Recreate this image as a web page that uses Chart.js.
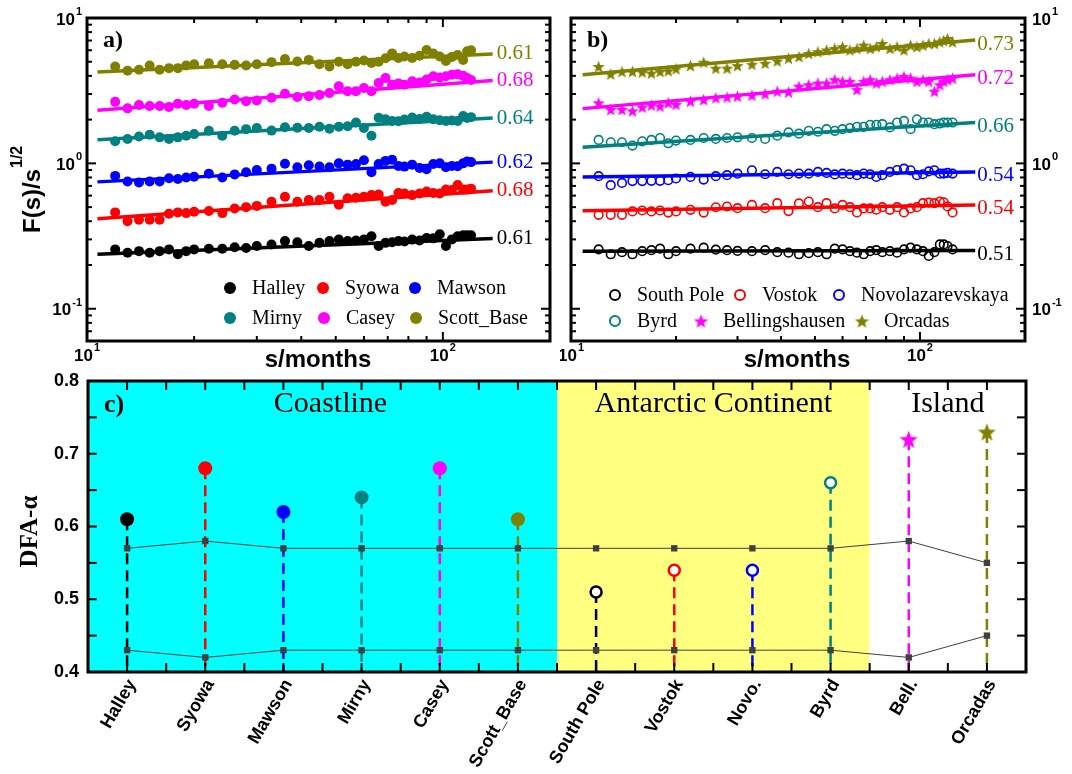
<!DOCTYPE html>
<html>
<head>
<meta charset="utf-8">
<title>DFA of Antarctic stations</title>
<script src="https://cdn.jsdelivr.net/npm/chart.js@4.4.1/dist/chart.umd.min.js"></script>
<style>
  html, body { margin: 0; padding: 0; background: #fff; }
  #wrap { position: relative; width: 1072px; height: 774px; overflow: hidden; }
  #wrap canvas { position: absolute; }
</style>
</head>
<body>
<div id="wrap">
  <canvas id="chartA" width="560" height="370" style="left:0;top:0"></canvas>
  <canvas id="chartB" width="512" height="370" style="left:560px;top:0"></canvas>
  <canvas id="chartC" width="1072" height="404" style="left:0;top:370px"></canvas>
</div>
<script>
// ===== DATA =====

// panel a: coastline stations, F(s)/s^1/2 against s (months)
const sA = [12, 13, 14, 15, 16, 17, 18, 19, 20, 22, 24, 26, 28, 30, 33, 36, 39, 42, 45, 48, 51,
    54, 57, 60, 63, 66, 69, 72, 75, 78, 82, 86, 90, 94, 98, 102, 106, 110, 114, 117, 120];
const halley = [0.256, 0.243, 0.249, 0.243, 0.249, 0.256, 0.237, 0.249, 0.256, 0.259, 0.259, 0.265, 0.262, 0.270,
    0.277, 0.292, 0.287, 0.270, 0.284, 0.292, 0.299, 0.292, 0.295, 0.299, 0.315, 0.270, 0.284, 0.287, 0.292,
    0.290, 0.299, 0.295, 0.307, 0.305, 0.325, 0.270, 0.300, 0.315, 0.320, 0.320, 0.320];
const syowa = [0.46, 0.40, 0.41, 0.41, 0.41, 0.45, 0.46, 0.455, 0.465, 0.47, 0.455, 0.49, 0.50, 0.51, 0.545,
    0.59, 0.545, 0.56, 0.56, 0.59, 0.52, 0.575, 0.58, 0.59, 0.605, 0.61, 0.545, 0.56, 0.625, 0.62, 0.605,
    0.62, 0.64, 0.625, 0.62, 0.66, 0.655, 0.71, 0.66, 0.66, 0.67];
const mawson = [0.82, 0.75, 0.74, 0.75, 0.75, 0.79, 0.78, 0.80, 0.81, 0.85, 0.80, 0.84, 0.87, 0.90, 0.92,
    0.995, 0.94, 0.97, 0.95, 0.94, 1.00, 0.98, 0.99, 1.05, 0.87, 0.99, 1.04, 1.06, 0.96, 0.95, 0.98,
    0.93, 0.91, 0.99, 1.00, 0.94, 0.96, 0.955, 1.00, 1.03, 1.02];
const mirny = [1.42, 1.47, 1.53, 1.575, 1.51, 1.47, 1.51, 1.55, 1.59, 1.675, 1.55, 1.675, 1.72, 1.75, 1.68,
    1.77, 1.76, 1.75, 1.785, 1.73, 1.785, 1.80, 1.91, 1.75, 1.55, 2.06, 2.01, 1.96, 1.95, 2.00, 2.065,
    2.02, 2.09, 2.01, 1.98, 1.96, 1.97, 1.96, 2.12, 2.05, 2.08];
const casey = [2.65, 2.39, 2.52, 2.48, 2.48, 2.44, 2.57, 2.52, 2.57, 2.48, 2.61, 2.75, 2.68, 2.71, 2.83,
    3.01, 2.86, 2.90, 2.95, 3.05, 3.39, 3.14, 3.14, 3.30, 3.14, 3.57, 3.86, 3.48, 3.55, 3.48, 3.67,
    3.60, 3.77, 3.97, 3.90, 3.97, 4.07, 4.10, 4.00, 3.87, 3.75];
const scottBase = [4.64, 4.34, 4.40, 4.71, 4.40, 4.52, 4.52, 4.71, 4.81, 4.89, 4.81, 4.76, 4.71, 4.81, 4.97,
    5.23, 5.02, 5.15, 4.80, 4.64, 5.00, 4.81, 5.00, 5.10, 4.90, 5.00, 5.29, 5.71, 5.30, 5.43, 5.30,
    5.50, 6.03, 5.70, 5.43, 5.07, 5.40, 5.57, 5.15, 5.90, 6.00];

// fitted lines of panel a (two end points each)
const fitSA = [10.7, 138];
const fitHalley = [0.237, 0.304];
const fitSyowa = [0.416, 0.648];
const fitMawson = [0.746, 1.02];
const fitMirny = [1.456, 2.05];
const fitCasey = [2.32, 3.71];
const fitScott = [4.25, 5.66];

// panel b: continent and island stations
const sB = [12, 13, 14, 15, 16, 17, 18, 19, 20, 22, 24, 26, 28, 30, 33, 36, 39, 42, 45, 48, 51,
    54, 57, 60, 63, 66, 69, 72, 75, 78, 82, 86, 90, 94, 98, 102, 106, 110, 114, 117, 120, 124];
const southPole = [0.256, 0.237, 0.245, 0.237, 0.249, 0.253, 0.259, 0.237, 0.249, 0.259, 0.263, 0.255, 0.253,
    0.250, 0.249, 0.253, 0.245, 0.243, 0.237, 0.241, 0.245, 0.237, 0.259, 0.256, 0.249, 0.243, 0.237, 0.249,
    0.253, 0.245, 0.249, 0.243, 0.256, 0.263, 0.256, 0.249, 0.231, 0.245, 0.277, 0.277, 0.270, 0.256];
const vostok = [0.443, 0.443, 0.443, 0.467, 0.474, 0.467, 0.474, 0.459, 0.467, 0.479, 0.459, 0.499, 0.505,
    0.492, 0.518, 0.492, 0.532, 0.470, 0.530, 0.546, 0.500, 0.532, 0.490, 0.518, 0.500, 0.460, 0.490, 0.490,
    0.480, 0.500, 0.479, 0.500, 0.460, 0.490, 0.500, 0.532, 0.537, 0.532, 0.546, 0.540, 0.505, 0.460];
const novo = [0.816, 0.708, 0.734, 0.755, 0.755, 0.759, 0.759, 0.766, 0.787, 0.807, 0.774, 0.816, 0.829,
    0.850, 0.896, 0.842, 0.873, 0.842, 0.851, 0.850, 0.873, 0.860, 0.840, 0.850, 0.842, 0.830, 0.851, 0.842,
    0.807, 0.829, 0.873, 0.900, 0.920, 0.896, 0.829, 0.842, 0.880, 0.896, 0.850, 0.851, 0.860, 0.851];
const byrd = [1.45, 1.397, 1.397, 1.325, 1.419, 1.449, 1.495, 1.375, 1.434, 1.449, 1.495, 1.472, 1.495, 1.51,
    1.495, 1.472, 1.55, 1.633, 1.60, 1.675, 1.65, 1.72, 1.675, 1.72, 1.748, 1.785, 1.785, 1.842, 1.842,
    1.862, 1.766, 1.91, 1.96, 1.72, 2.01, 1.91, 1.91, 1.862, 1.88, 1.91, 1.91, 1.91];
const bellingshausen = [2.61, 2.35, 2.35, 2.30, 2.44, 2.52, 2.48, 2.61, 2.55, 2.68, 2.75, 2.83, 2.86, 2.90,
    2.95, 3.01, 3.14, 3.10, 3.39, 3.48, 3.57, 3.57, 3.77, 3.67, 3.67, 3.22, 3.67, 3.77, 3.57, 3.67, 3.77,
    3.86, 3.97, 3.86, 3.67, 3.77, 3.67, 3.14, 3.48, 3.67, 3.77, 3.86];
const orcadas = [4.64, 4.12, 4.29, 4.29, 4.25, 4.18, 4.29, 4.34, 4.48, 4.71, 4.97, 4.52, 4.52, 4.71, 4.81,
    4.89, 5.07, 5.29, 5.43, 5.71, 5.87, 6.03, 6.18, 6.35, 6.03, 6.18, 6.51, 6.18, 6.35, 6.69, 6.18, 6.35,
    6.03, 6.51, 6.35, 6.51, 6.69, 6.69, 6.86, 7.00, 7.23, 6.86];

const fitSB = [10.8, 144];
const fitSouthPole = [0.249, 0.252];
const fitVostok = [0.472, 0.518];
const fitNovo = [0.807, 0.873];
const fitByrd = [1.29, 1.91];
const fitBell = [2.38, 4.07];
const fitOrcadas = [4.07, 7.05];

// log axis ticks (panels a and b)
const logMajor = [0.1, 1, 10];
const logMajorLabels = ['-1', '0', '1'];
const logMinorY = [0.06, 0.07, 0.08, 0.09, 0.2, 0.3, 0.4, 0.5, 0.6, 0.7, 0.8, 0.9, 2, 3, 4, 5, 6, 7, 8, 9];
const sMajor = [10, 100];
const sMajorLabels = ['1', '2'];
const sMinor = [20, 30, 40, 50, 60, 70, 80, 90, 200];

// panel c: DFA exponent per station
const stations = ['Halley', 'Syowa', 'Mawson', 'Mirny', 'Casey', 'Scott_Base',
    'South Pole', 'Vostok', 'Novo.', 'Byrd', 'Bell.', 'Orcadas'];
const alphaC = [0.61, 0.68, 0.62, 0.64, 0.68, 0.61, 0.51, 0.54, 0.54, 0.66, 0.72, 0.73];
const upperC = [0.57, 0.58, 0.57, 0.57, 0.57, 0.57, 0.57, 0.57, 0.57, 0.57, 0.58, 0.55];
const lowerC = [0.43, 0.42, 0.43, 0.43, 0.43, 0.43, 0.43, 0.43, 0.43, 0.43, 0.42, 0.45];
const regionNames = ['Coastline', 'Antarctic Continent', 'Island'];
const regionFrom = [0, 6, 10];
const regionTo = [5, 9, 11];
const yTicksC = [0.4, 0.5, 0.6, 0.7, 0.8];
const yMinorC = [0.45, 0.55, 0.65, 0.75];

// ===== STYLE =====

const BLACK = '#000000', RED = '#ff0000', BLUE = '#0000ff';
const TEAL = '#008080', MAGENTA = '#ff00ff', OLIVE = '#808000';
const SANS = '"Liberation Sans", Arial, sans-serif';
const SERIF = '"Liberation Serif", "Times New Roman", serif';

const seriesA = [
    { name: 'Halley', color: BLACK, data: halley, fit: fitHalley, alpha: '0.61', mark: 'dot' },
    { name: 'Syowa', color: RED, data: syowa, fit: fitSyowa, alpha: '0.68', mark: 'dot' },
    { name: 'Mawson', color: BLUE, data: mawson, fit: fitMawson, alpha: '0.62', mark: 'dot' },
    { name: 'Mirny', color: TEAL, data: mirny, fit: fitMirny, alpha: '0.64', mark: 'dot' },
    { name: 'Casey', color: MAGENTA, data: casey, fit: fitCasey, alpha: '0.68', mark: 'dot' },
    { name: 'Scott_Base', color: OLIVE, data: scottBase, fit: fitScott, alpha: '0.61', mark: 'dot' },
];
const seriesB = [
    { name: 'South Pole', color: BLACK, data: southPole, fit: fitSouthPole, alpha: '0.51', mark: 'ring' },
    { name: 'Vostok', color: RED, data: vostok, fit: fitVostok, alpha: '0.54', mark: 'ring' },
    { name: 'Novolazarevskaya', color: BLUE, data: novo, fit: fitNovo, alpha: '0.54', mark: 'ring' },
    { name: 'Byrd', color: TEAL, data: byrd, fit: fitByrd, alpha: '0.66', mark: 'ring' },
    { name: 'Bellingshausen', color: MAGENTA, data: bellingshausen, fit: fitBell, alpha: '0.72', mark: 'star' },
    { name: 'Orcadas', color: OLIVE, data: orcadas, fit: fitOrcadas, alpha: '0.73', mark: 'star' },
];
const colorsC = [BLACK, RED, BLUE, TEAL, MAGENTA, OLIVE, BLACK, RED, BLUE, TEAL, MAGENTA, OLIVE];
const marksC = ['dot', 'dot', 'dot', 'dot', 'dot', 'dot', 'ring', 'ring', 'ring', 'ring', 'star', 'star'];
const regionColors = ['#00ffff', '#ffff80', '#ffffff'];

// ===== HELPERS =====

const starCache = {};
function starImg(size, color) {
    const key = size + color;
    if (starCache[key]) return starCache[key];
    const c = document.createElement('canvas');
    c.width = c.height = size;
    const g = c.getContext('2d');
    const R = size / 2, r = R * 0.42, cx = size / 2, cy = size / 2 + R * 0.1;
    g.beginPath();
    for (let k = 0; k < 10; k++) {
        const a = -Math.PI / 2 + (k * Math.PI) / 5;
        const rr = k % 2 ? r : R;
        g.lineTo(cx + rr * Math.cos(a), cy + rr * Math.sin(a));
    }
    g.closePath();
    g.fillStyle = color;
    g.fill();
    starCache[key] = c;
    return c;
}

function line(ctx, x1, y1, x2, y2) {
    ctx.beginPath();
    ctx.moveTo(x1, y1);
    ctx.lineTo(x2, y2);
    ctx.stroke();
}

function drawFrame(chart, xMaj, xMin, yMaj, yMin, majLen, minLen) {
    const { ctx, chartArea: a, scales: { x, y } } = chart;
    ctx.save();
    ctx.strokeStyle = '#000';
    ctx.lineWidth = 2;
    const xt = (vals, len) => vals.forEach((v) => {
        const p = x.getPixelForValue(v);
        line(ctx, p, a.bottom, p, a.bottom - len);
        line(ctx, p, a.top, p, a.top + len);
    });
    const yt = (vals, len) => vals.forEach((v) => {
        const p = y.getPixelForValue(v);
        line(ctx, a.left, p, a.left + len, p);
        line(ctx, a.right, p, a.right - len, p);
    });
    xt(xMaj, majLen); xt(xMin, minLen);
    yt(yMaj, majLen); yt(yMin, minLen);
    ctx.lineWidth = 3;
    ctx.strokeRect(a.left, a.top, a.right - a.left, a.bottom - a.top);
    ctx.restore();
}

// "10" with a raised exponent
function pow10(ctx, x, y, exp, align) {
    ctx.save();
    ctx.fillStyle = '#000';
    ctx.textBaseline = 'middle';
    ctx.textAlign = 'left';
    ctx.font = 'bold 17px ' + SANS;
    const w1 = ctx.measureText('10').width;
    ctx.font = 'bold 11px ' + SANS;
    const w2 = ctx.measureText(exp).width;
    const total = w1 + w2 + 1;
    const x0 = align === 'right' ? x - total : align === 'center' ? x - total / 2 : x;
    ctx.font = 'bold 17px ' + SANS;
    ctx.fillText('10', x0, y);
    ctx.font = 'bold 11px ' + SANS;
    ctx.fillText(exp, x0 + w1 + 1, y - 8);
    ctx.restore();
}

function drawMarker(ctx, mark, color, x, y, r, starSize) {
    ctx.save();
    if (mark === 'star') {
        const img = starImg(starSize, color);
        ctx.drawImage(img, x - img.width / 2, y - img.height / 2);
    } else {
        ctx.beginPath();
        ctx.arc(x, y, r, 0, Math.PI * 2);
        if (mark === 'ring') {
            ctx.fillStyle = '#fff';
            ctx.fill();
            ctx.lineWidth = 2;
            ctx.strokeStyle = color;
            ctx.stroke();
        } else {
            ctx.fillStyle = color;
            ctx.fill();
        }
    }
    ctx.restore();
}

// ===== PANELS A AND B =====

function logDatasets(sArr, fitS, series) {
    const ds = [];
    series.forEach((s) => {
        ds.push({
            data: sArr.map((v, i) => ({ x: v, y: s.data[i] })),
            pointStyle: s.mark === 'star' ? starImg(13, s.color) : 'circle',
            pointRadius: s.mark === 'ring' ? 4.3 : 5,
            pointBackgroundColor: s.mark === 'ring' ? 'rgba(0,0,0,0)' : s.color,
            pointBorderColor: s.color,
            pointBorderWidth: s.mark === 'ring' ? 1.6 : 0,
            showLine: false,
            order: 2,
        });
        ds.push({
            data: fitS.map((v, i) => ({ x: v, y: s.fit[i] })),
            borderColor: s.color,
            borderWidth: 3.5,
            pointRadius: 0,
            showLine: true,
            order: 1,
        });
    });
    return ds;
}

function logPanel(canvasId, cfg) {
    const decor = {
        id: 'decor',
        afterDraw(chart) {
            const { ctx, chartArea: a, scales: { x, y } } = chart;
            drawFrame(chart, sMajor, sMinor, logMajor, logMinorY, 9, 5);

            sMajor.forEach((v, i) => pow10(ctx, x.getPixelForValue(v), a.bottom + 15, sMajorLabels[i], 'center'));
            logMajor.forEach((v, i) => {
                const py = y.getPixelForValue(v) + 2;
                if (cfg.yRight) pow10(ctx, a.right + 7, py, logMajorLabels[i], 'left');
                else pow10(ctx, a.left - 5, py, logMajorLabels[i], 'right');
            });

            ctx.save();
            ctx.fillStyle = '#000';
            ctx.textBaseline = 'middle';
            ctx.textAlign = 'center';
            ctx.font = 'bold 24px ' + SANS;
            ctx.fillText('s/months', a.left + cfg.titleDx, a.bottom + 19);

            ctx.textAlign = 'left';
            ctx.font = 'bold 24px ' + SERIF;
            ctx.fillText(cfg.letter, a.left + 16, a.top + 23);

            if (cfg.yTitle) {
                ctx.save();
                ctx.translate(33, a.top + 215);
                ctx.rotate(-Math.PI / 2);
                ctx.font = 'bold 24px ' + SANS;
                ctx.fillText('F(s)/s', 0, 0);
                const w = ctx.measureText('F(s)/s').width;
                ctx.font = 'bold 16px ' + SANS;
                ctx.fillText('1/2', w + 1, -15);
                ctx.restore();
            }

            ctx.font = '21px ' + SERIF;
            cfg.series.forEach((s) => {
                ctx.fillStyle = s.color;
                ctx.fillText(s.alpha, x.getPixelForValue(cfg.fitS[1]) + cfg.labelDx,
                    y.getPixelForValue(s.fit[1]) + cfg.labelDy);
            });

            ctx.font = '20px ' + SERIF;
            ctx.fillStyle = '#000';
            cfg.series.forEach((s, i) => {
                const [lx, ly] = cfg.legendPos[i];
                drawMarker(ctx, s.mark, s.color, a.left + lx, a.top + ly, s.mark === 'ring' ? 5 : 6, 15);
                ctx.fillStyle = '#000';
                ctx.fillText(s.name, a.left + lx + 22, a.top + ly + 1);
            });
            ctx.restore();
        },
    };

    return new Chart(document.getElementById(canvasId), {
        type: 'scatter',
        data: { datasets: logDatasets(cfg.sArr, cfg.fitS, cfg.series) },
        options: {
            responsive: false,
            animation: false,
            events: [],
            layout: { padding: cfg.padding },
            plugins: { legend: { display: false }, tooltip: { enabled: false } },
            scales: {
                x: { type: 'logarithmic', min: 10, max: 200, display: false },
                y: { type: 'logarithmic', min: 0.06, max: 10, display: false },
            },
        },
        plugins: [decor],
    });
}

logPanel('chartA', {
    sArr: sA, fitS: fitSA, series: seriesA, letter: 'a)', yTitle: true, yRight: false,
    padding: { left: 87, top: 18, right: 10, bottom: 29 },
    titleDx: 231, labelDx: 4, labelDy: 0,
    legendPos: [[143, 270], [236, 270], [328, 270], [143, 300], [237, 300], [329, 300]],
});

logPanel('chartB', {
    sArr: sB, fitS: fitSB, series: seriesB, letter: 'b)', yTitle: false, yRight: true,
    padding: { left: 11, top: 18, right: 47, bottom: 29 },
    titleDx: 226, labelDx: 2, labelDy: 4,
    legendPos: [[44, 277], [169, 277], [268, 277], [44, 303], [130, 303], [291, 303]],
});

// ===== PANEL C =====

const stemSets = stations.map((name, i) => {
    const m = marksC[i];
    return {
        data: [{ x: i, y: alphaC[i] }, { x: i, y: 0.4 }],
        showLine: true,
        borderColor: colorsC[i],
        borderWidth: 2.5,
        borderDash: [11, 6],
        pointStyle: m === 'star' ? starImg(19, colorsC[i]) : 'circle',
        pointRadius: [m === 'dot' ? 7 : m === 'ring' ? 5.5 : 8, 0],
        pointBackgroundColor: m === 'ring' ? '#ffffff' : colorsC[i],
        pointBorderColor: colorsC[i],
        pointBorderWidth: m === 'ring' ? 2.5 : 0,
        order: 2,
    };
});

const boundSets = [upperC, lowerC].map((vals) => ({
    data: vals.map((v, i) => ({ x: i, y: v })),
    showLine: true,
    borderColor: '#404040',
    borderWidth: 1,
    pointStyle: 'rect',
    pointRadius: 4.5,
    pointBackgroundColor: '#404040',
    pointBorderWidth: 0,
    order: 1,
}));

const decorC = {
    id: 'decorC',
    beforeDatasetsDraw(chart) {
        const { ctx, chartArea: a, scales: { x } } = chart;
        ctx.save();
        regionNames.forEach((r, i) => {
            const x1 = x.getPixelForValue(regionFrom[i] - 0.5);
            const x2 = x.getPixelForValue(regionTo[i] + 0.5);
            ctx.fillStyle = regionColors[i];
            ctx.fillRect(x1, a.top, x2 - x1, a.bottom - a.top);
        });
        ctx.restore();
    },
    afterDraw(chart) {
        const { ctx, chartArea: a, scales: { x, y } } = chart;
        const half = stations.slice(0, -1).map((s, i) => i + 0.5);
        drawFrame(chart, stations.map((s, i) => i), half, yTicksC, yMinorC, 9, 9);

        ctx.save();
        ctx.fillStyle = '#000';
        ctx.textBaseline = 'middle';

        ctx.textAlign = 'right';
        ctx.font = 'bold 18px ' + SANS;
        yTicksC.forEach((v) => ctx.fillText(v.toFixed(1), a.left - 9, y.getPixelForValue(v)));

        ctx.font = 'bold 18px ' + SANS;
        stations.forEach((name, i) => {
            ctx.save();
            ctx.translate(x.getPixelForValue(i) + 5, a.bottom + 9);
            ctx.rotate(-Math.PI / 3);
            ctx.fillText(name, 0, 0);
            ctx.restore();
        });

        ctx.textAlign = 'center';
        ctx.textBaseline = 'alphabetic';
        ctx.font = '30px ' + SERIF;
        regionNames.forEach((r, i) => {
            const cx = (x.getPixelForValue(regionFrom[i] - 0.5) + x.getPixelForValue(regionTo[i] + 0.5)) / 2;
            ctx.fillText(r, cx + (i === 0 ? 8 : 0), a.top + 31);
        });

        ctx.textAlign = 'left';
        ctx.textBaseline = 'middle';
        ctx.font = 'bold 26px ' + SERIF;
        ctx.fillText('c)', a.left + 16, a.top + 24);

        ctx.translate(31, (a.top + a.bottom) / 2 + 5);
        ctx.rotate(-Math.PI / 2);
        ctx.textAlign = 'center';
        ctx.font = 'bold 25px ' + SERIF;
        ctx.fillText('DFA-\u03b1', 0, 0);
        ctx.restore();
    },
};

new Chart(document.getElementById('chartC'), {
    type: 'scatter',
    data: { datasets: [...boundSets, ...stemSets] },
    options: {
        responsive: false,
        animation: false,
        events: [],
        layout: { padding: { left: 88, top: 11, right: 46, bottom: 102 } },
        plugins: { legend: { display: false }, tooltip: { enabled: false } },
        scales: {
            x: { type: 'linear', min: -0.5, max: 11.5, display: false },
            y: { type: 'linear', min: 0.4, max: 0.8, display: false },
        },
    },
    plugins: [decorC],
});
</script>
</body>
</html>
